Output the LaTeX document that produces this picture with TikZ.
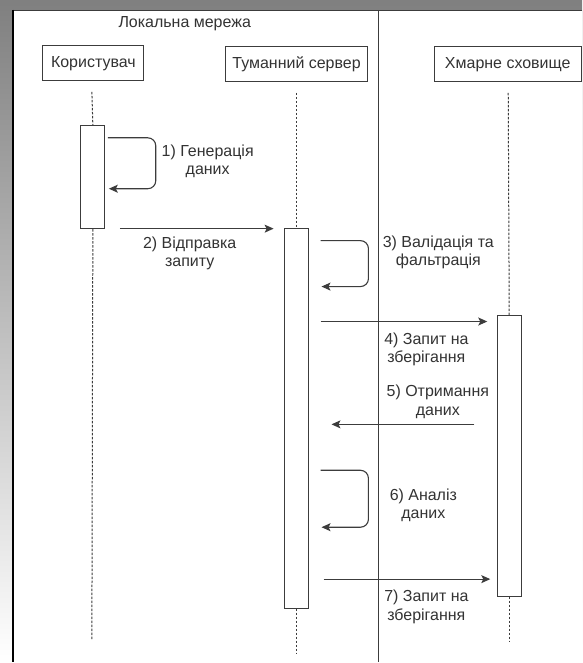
\documentclass[tikz,border=0pt]{standalone}
\usepackage{fontspec}
\setmainfont{Liberation Sans}
\usetikzlibrary{arrows.meta,positioning,calc}
\definecolor{ink}{RGB}{51,51,51}
\definecolor{edge}{RGB}{60,60,60}
\definecolor{shade}{RGB}{242,242,242}

\begin{document}
\begin{tikzpicture}[
    x=1pt, y=-1pt,
    actor/.style={rectangle, draw=edge, line width=1pt, fill=white,
        minimum height=35pt, inner sep=0pt, align=center,
        font=\fontsize{16}{19}\selectfont, text=ink},
    bar/.style={rectangle, draw=edge, line width=1pt, fill=white,
        minimum width=24pt, inner sep=0pt},
    lifeline/.style={draw=edge, line width=1pt, dash pattern=on 2.5pt off 1.5pt},
    msg/.style={-{Stealth[length=9pt, width=8pt, inset=2pt]}, draw=edge, line width=1.1pt},
    selfmsg/.style={msg, rounded corners=8pt},
    lbl/.style={align=center, inner sep=0pt, font=\fontsize{16}{18.5}\selectfont, text=ink}
]

% canvas and frame
\fill[shade] (0,0) rectangle (583,663);
\fill[white] (12,10) rectangle (583,663);
\draw[edge, line width=1.2pt] (583,10.5) -- (12.5,10.5);
\draw[black, line width=2pt] (13,10) -- (13,663);
\draw[edge, line width=1.2pt] (379,10.5) -- (379,663);
\node[lbl] (title) at (185,24) {Локальна мережа};

% participants
\node[actor, minimum width=101pt] (user) at (93.5,63.5) {Користувач};
\node[actor, minimum width=142pt] (fog) at (297,64.5) {Туманний сервер};
\node[actor, minimum width=147pt] (cloud) at (508.5,64.5) {Хмарне сховище};

% activations
\node[bar, minimum height=103pt] (actuser) at (93,177.5) {};
\node[bar, minimum height=380pt] (actfog) at (297,419) {};
\node[bar, minimum height=281pt] (actcloud) at (510,456.5) {};

% lifelines
\coordinate (enduser) at (92,640);
\coordinate (endfog) at (297,655);
\coordinate (endcloud) at (510,643);
\draw[lifeline] (92,92) -- (actuser.north);
\draw[lifeline] (actuser.south) -- (enduser);
\draw[lifeline] (297,93) -- (actfog.north);
\draw[lifeline] (actfog.south) -- (endfog);
\draw[lifeline] (509,93) -- (actcloud.north);
\draw[lifeline] (actcloud.south) -- (endcloud);

% message ends
\coordinate (m1a) at (108,138);
\coordinate (m1b) at (109,189);
\coordinate (m2a) at (120,229);
\coordinate (m2b) at (274,229);
\coordinate (m3a) at (321,241);
\coordinate (m3b) at (322,287);
\coordinate (m4a) at (321,322);
\coordinate (m4b) at (488,322);
\coordinate (m5a) at (475,425);
\coordinate (m5b) at (332,425);
\coordinate (m6a) at (321,471);
\coordinate (m6b) at (322,528);
\coordinate (m7a) at (324,580);
\coordinate (m7b) at (491,580);

\draw[selfmsg] (m1a) -- ++(48,0) |- (m1b);
\draw[msg] (m2a) -- (m2b);
\draw[selfmsg] (m3a) -- ++(48,0) |- (m3b);
\draw[msg] (m4a) -- (m4b);
\draw[msg] (m5a) -- (m5b);
\draw[selfmsg] (m6a) -- ++(48,0) |- (m6b);
\draw[msg] (m7a) -- (m7b);

% labels
\node[lbl] (l1) at (208,161.5) {1) Генерація\\даних};
\node[lbl] (l2) at (190,253.5) {2) Відправка\\запиту};
\node[lbl] (l3) at (439,253) {3) Валідація та\\фальтрація};
\node[lbl] (l4) at (427,350) {4) Запит на\\зберігання};
\node[lbl] (l5) at (438.5,402.5) {5) Отримання\\даних};
\node[lbl] (l6) at (424,506) {6) Аналіз\\даних};
\node[lbl] (l7) at (427,608) {7) Запит на\\зберігання};

\end{tikzpicture}
\end{document}
